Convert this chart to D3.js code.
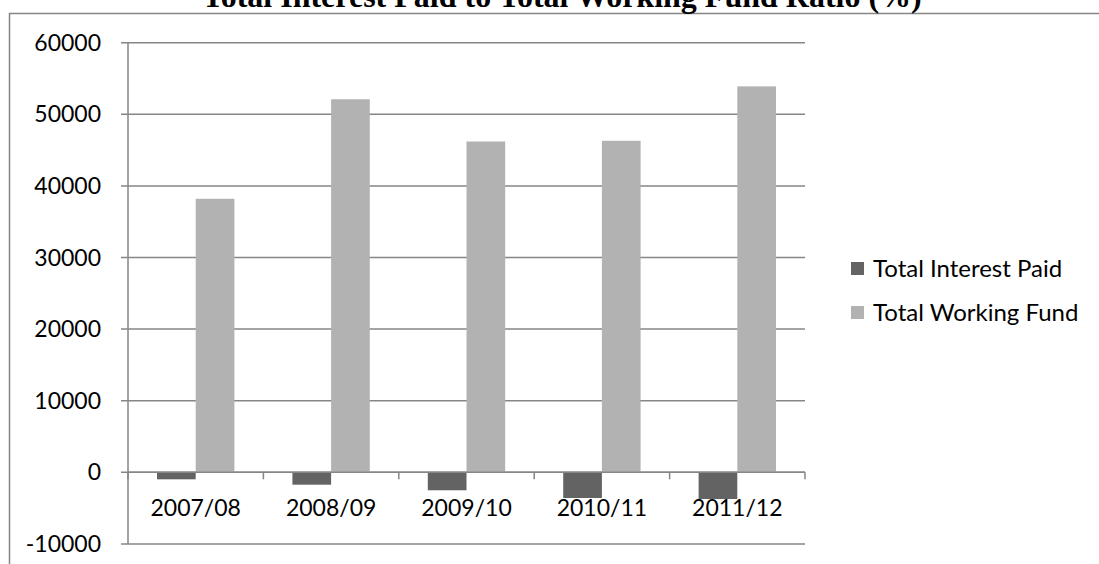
<!DOCTYPE html>
<meta charset="utf-8">
<style>
	body { margin: 0; background: #fff; }
	text { fill: #000; }
</style>
<body>
<svg id="chart" width="1099" height="564"></svg>
<script src="https://cdn.jsdelivr.net/npm/d3@7"></script>
<script>
	// data
	var years = ["2007/08", "2008/09", "2009/10", "2010/11", "2011/12"];
	var interestPaid = [-980, -1730, -2510, -3590, -3730];
	var workingFund = [38200, 52100, 46200, 46300, 53900];
	var seriesNames = ["Total Interest Paid", "Total Working Fund"];
	var seriesColors = ["#636363", "#b2b2b2"];
	var yTicks = [-10000, 0, 10000, 20000, 30000, 40000, 50000, 60000];

	var svg = d3.select("#chart"),
		labelFont = "Lato, 'Open Sans', sans-serif";

	// outer chart border (runs off right and bottom)
	svg.append("rect")
		.attr("x", 9.5).attr("y", 13.5)
		.attr("width", 1200).attr("height", 600)
		.attr("fill", "none")
		.attr("stroke", "#868686")
		.attr("stroke-width", 1.5);

	svg.append("text")
		.attr("x", 562).attr("y", 7)
		.attr("text-anchor", "middle")
		.style("font-family", "'Liberation Serif', 'Times New Roman', serif")
		.style("font-weight", "bold")
		.style("font-size", "32px")
		.text("Total Interest Paid to Total Working Fund Ratio (%)");

	var x = d3.scaleBand()
		.domain(years)
		.range([128, 805]);

	var x1 = d3.scaleBand()
		.domain([0, 1])
		.range([0, x.bandwidth()])
		.paddingInner(0)
		.paddingOuter(0.75);

	var y = d3.scaleLinear()
		.domain([-10000, 60000])
		.range([543.9, 42.7]);

	// gridlines
	svg.append("g").selectAll("line")
		.data(yTicks)
		.enter().append("line")
		.attr("x1", 121).attr("x2", 805)
		.attr("y1", function(d) { return y(d); })
		.attr("y2", function(d) { return y(d); })
		.attr("stroke", "#868686")
		.attr("stroke-width", 1.5);

	// y axis line
	svg.append("line")
		.attr("x1", 128).attr("x2", 128)
		.attr("y1", y(60000)).attr("y2", y(-10000))
		.attr("stroke", "#868686")
		.attr("stroke-width", 1.5);

	svg.append("g").selectAll("text")
		.data(yTicks)
		.enter().append("text")
		.attr("x", 101)
		.attr("y", function(d) { return y(d); })
		.attr("dy", "0.35em")
		.attr("text-anchor", "end")
		.style("font-family", labelFont)
		.style("font-size", "23px")
		.text(function(d) { return d; });

	// bars
	var rows = years.map(function(yr, i) {
		return { year: yr, values: [interestPaid[i], workingFund[i]] };
	});

	var groups = svg.append("g").selectAll("g")
		.data(rows)
		.enter().append("g")
		.attr("transform", function(d) { return "translate(" + x(d.year) + ",0)"; });

	groups.selectAll("rect")
		.data(function(d) { return d.values.map(function(v, k) { return { k: k, v: v }; }); })
		.enter().append("rect")
		.attr("x", function(d) { return x1(d.k); })
		.attr("width", x1.bandwidth())
		.attr("y", function(d) { return y(Math.max(0, d.v)); })
		.attr("height", function(d) { return Math.abs(y(d.v) - y(0)); })
		.attr("fill", function(d) { return seriesColors[d.k]; });

	// zero line (category axis) with ticks
	svg.append("line")
		.attr("x1", 128).attr("x2", 805)
		.attr("y1", y(0)).attr("y2", y(0))
		.attr("stroke", "#868686")
		.attr("stroke-width", 1.5);

	var bounds = years.map(function(d) { return x(d); }).concat([805]);
	svg.append("g").selectAll("line")
		.data(bounds)
		.enter().append("line")
		.attr("x1", function(d) { return d; })
		.attr("x2", function(d) { return d; })
		.attr("y1", y(0)).attr("y2", y(0) + 7)
		.attr("stroke", "#868686")
		.attr("stroke-width", 1.5);

	svg.append("g").selectAll("text")
		.data(years)
		.enter().append("text")
		.attr("x", function(d) { return x(d) + x.bandwidth() / 2; })
		.attr("y", 516)
		.attr("text-anchor", "middle")
		.style("font-family", labelFont)
		.style("font-size", "23px")
		.text(function(d) { return d; });

	// legend
	var legend = svg.append("g").selectAll("g")
		.data(seriesNames)
		.enter().append("g")
		.attr("transform", function(d, i) { return "translate(851," + (269 + i * 44) + ")"; });

	legend.append("rect")
		.attr("x", 0).attr("y", -7)
		.attr("width", 13).attr("height", 13)
		.attr("fill", function(d, i) { return seriesColors[i]; });

	legend.append("text")
		.attr("x", 22)
		.attr("dy", "0.35em")
		.style("font-family", labelFont)
		.style("font-size", "24px")
		.text(function(d) { return d; });
</script>
</body>
